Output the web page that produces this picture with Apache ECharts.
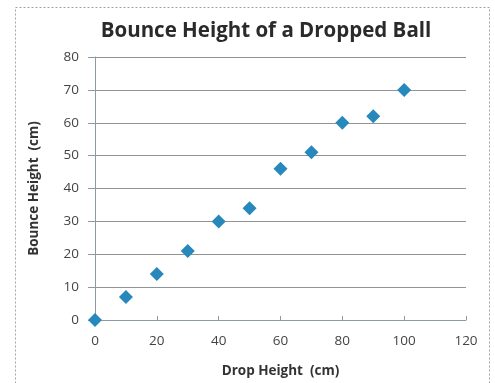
<!DOCTYPE html>
<html><head><meta charset="utf-8">
<script src="https://cdn.jsdelivr.net/npm/echarts@6/dist/echarts.min.js"></script>
<style>html,body{margin:0;padding:0;background:#fff}#c{width:495px;height:383px}</style>
</head><body><div id="c"></div>
<script>
const dropHeights = [0, 10, 20, 30, 40, 50, 60, 70, 80, 90, 100];
const bounceHeights = [0, 7, 14, 21, 30, 34, 46, 51, 60, 62, 70];
const titleText = 'Bounce Height of a Dropped Ball';
const xName = 'Drop Height  (cm)';
const yName = 'Bounce Height  (cm)';

const chart = echarts.init(document.getElementById('c'));
const font = '"Open Sans", "Noto Sans", sans-serif';
chart.setOption({
  animation: false,
  backgroundColor: '#fff',
  title: {
    text: titleText, left: 261, top: 16, textAlign: 'center',
    textStyle: {fontFamily: font, fontSize: 20.5, fontWeight: 'bold', color: '#2a2a2a'}
  },
  graphic: [{
    type: 'rect', shape: {x: 15.5, y: 7.5, width: 474, height: 380},
    style: {fill: null, stroke: '#9aa6aa', lineWidth: 1, lineDash: [2, 2]}, silent: true
  }],
  grid: {left: 95, right: 29, top: 57, bottom: 61},
  xAxis: {
    type: 'value', min: 0, max: 120, interval: 20,
    name: xName, nameLocation: 'middle', nameGap: 44,
    nameTextStyle: {fontFamily: font, fontSize: 13.5, fontWeight: 'bold', color: '#333'},
    axisLine: {show: true, onZero: false, lineStyle: {color: '#8a9aa0'}},
    axisTick: {show: true, inside: true, length: 4, lineStyle: {color: '#8a9aa0'}},
    axisLabel: {fontFamily: font, fontSize: 13.5, color: '#444', margin: 14},
    splitLine: {show: false}
  },
  yAxis: {
    type: 'value', min: 0, max: 80, interval: 10,
    name: yName, nameLocation: 'middle', nameGap: 54,
    nameTextStyle: {fontFamily: font, fontSize: 13.5, fontWeight: 'bold', color: '#333'},
    axisLine: {show: true, lineStyle: {color: '#8a9aa0'}},
    axisTick: {show: true, length: 7, lineStyle: {color: '#8a9aa0'}},
    axisLabel: {fontFamily: font, fontSize: 13.5, color: '#444', margin: 16},
    splitLine: {show: true, lineStyle: {color: '#8f9596', width: 1}}
  },
  series: [{
    type: 'scatter', symbol: 'diamond', symbolSize: 14,
    itemStyle: {color: '#2688bb', opacity: 1},
    data: dropHeights.map((x, i) => [x, bounceHeights[i]])
  }]
});
</script></body></html>
